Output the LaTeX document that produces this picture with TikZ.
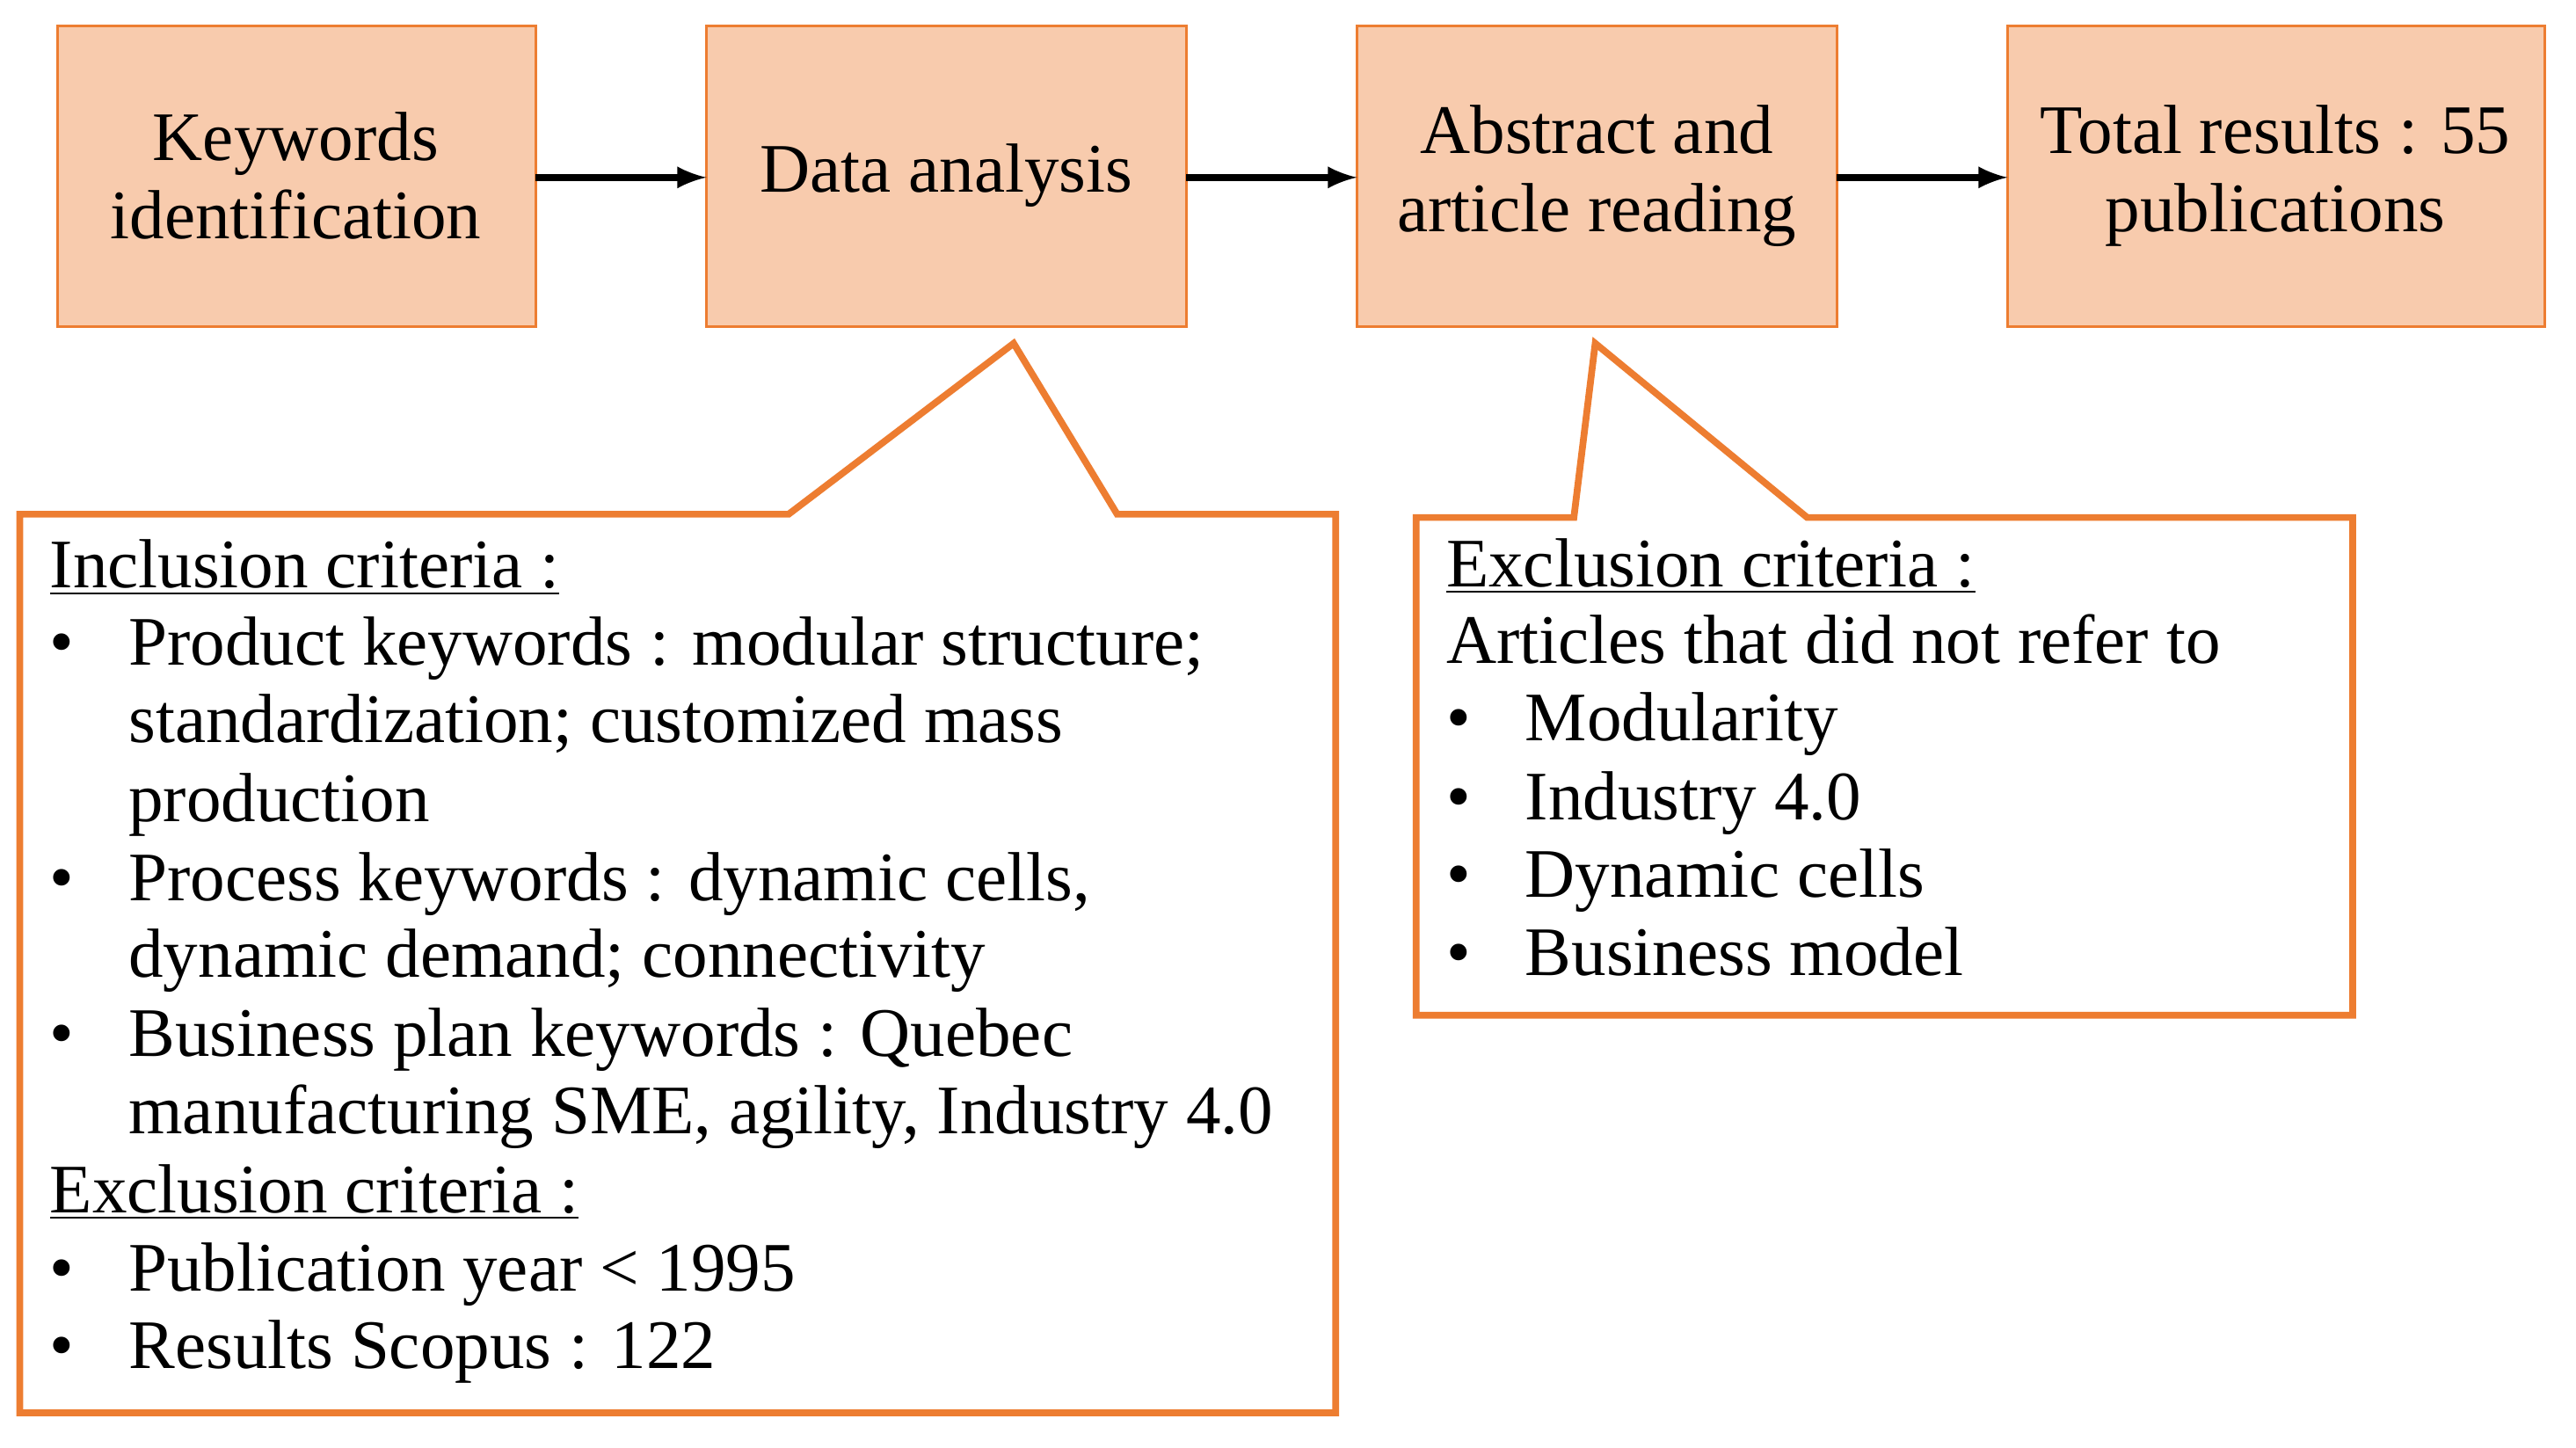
\documentclass[tikz,border=0pt]{standalone}
\usepackage{fontspec}
\setmainfont{Liberation Serif}
\begin{document}
\begin{tikzpicture}[x=0.01869cm,y=-0.01869cm,
  txt/.style={font=\fontsize{22.5pt}{25.5pt}\selectfont,inner sep=0pt},
  arr/.style={-latex,line width=2.2pt}]
\definecolor{peach}{HTML}{F8CBAD}
\definecolor{calloutc}{HTML}{ED7D31}
\tikzset{call/.style={draw=calloutc,line width=2.2pt,line join=miter},
  bx/.style={draw=calloutc,fill=peach,line width=0.9pt},
  ln/.style={txt,anchor=base west}}
\useasboundingbox (0,0) rectangle (1568,881);
\draw[bx] (35,16) rectangle (326,199);
\draw[bx] (430,16) rectangle (722,199);
\draw[bx] (826,16) rectangle (1118,199);
\draw[bx] (1222,16) rectangle (1549,199);
\node[txt,align=center] (t1) at (180,107) {Keywords\\identification};
\node[txt,align=center] (t2) at (576,107) {Data analysis};
\node[txt,align=center] (t3) at (972,107) {Abstract and\\article reading};
\node[txt,align=center] (t4) at (1385,107) {Total results : 55\\publications};
\coordinate (a1s) at (326,108); \coordinate (a1e) at (430,108);
\coordinate (a2s) at (722,108); \coordinate (a2e) at (826,108);
\coordinate (a3s) at (1118,108); \coordinate (a3e) at (1222,108);
\draw[arr] (a1s) -- (a1e);
\draw[arr] (a2s) -- (a2e);
\draw[arr] (a3s) -- (a3e);
\draw[call] (480,313) -- (617,209) -- (680,313) -- (813,313) -- (813,860) -- (12,860) -- (12,313) -- cycle;
\draw[call] (958,315) -- (971,209) -- (1100,315) -- (1432,315) -- (1432,618) -- (862,618) -- (862,315) -- cycle;
\foreach \yy/\bb/\tt [count=\i] in {
 358/0/{\underline{Inclusion criteria :}},
 405/1/{Product keywords : modular structure;},
 452/2/{standardization; customized mass},
 500/2/{production},
 548/1/{Process keywords : dynamic cells,},
 595/2/{dynamic demand; connectivity},
 643/1/{Business plan keywords : Quebec},
 690/2/{manufacturing SME, agility, Industry 4.0},
 738/0/{\underline{Exclusion criteria :}},
 786/1/{Publication year < 1995},
 833/1/{Results Scopus : 122}}{
 \ifnum\bb=0
   \node[ln] (l\i) at (30,\yy) {\tt};
 \else
   \ifnum\bb=1 \node[ln] (lb\i) at (30,\yy) {•}; \fi
   \node[ln] (l\i) at (78,\yy) {\tt};
 \fi
}
\foreach \yy/\bb/\tt [count=\i] in {
 357/0/{\underline{Exclusion criteria :}},
 404/0/{Articles that did not refer to},
 451/1/{Modularity},
 499/1/{Industry 4.0},
 546/1/{Dynamic cells},
 594/1/{Business model}}{
 \ifnum\bb=0
   \node[ln] (r\i) at (880,\yy) {\tt};
 \else
   \node[ln] (rb\i) at (880,\yy) {•};
   \node[ln] (r\i) at (928,\yy) {\tt};
 \fi
}
\end{tikzpicture}
\end{document}
